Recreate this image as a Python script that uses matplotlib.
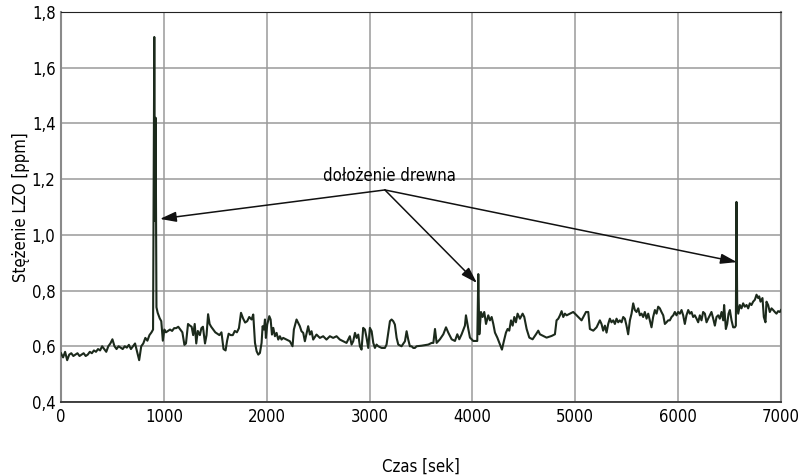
import matplotlib
matplotlib.use("Agg")
import matplotlib.pyplot as plt
from matplotlib.ticker import FuncFormatter

# wąska czcionka jak w oryginale (jeśli jest dostępna)
plt.rcParams['font.family'] = ['Liberation Sans Narrow', 'DejaVu Sans']
plt.rcParams['font.stretch'] = 'condensed'

# czas [s] i stężenie LZO [ppm]
czas = [
    0, 20, 40, 60, 80, 100, 120, 140, 160, 180, 200, 220, 240, 260, 280, 300,
    320, 340, 360, 380, 400, 420, 440, 460, 480, 500, 520, 540, 560, 580, 600,
    620, 640, 660, 680, 700, 720, 740, 760, 780, 800, 820, 840, 860, 880, 895,
    907, 914, 920, 928,
    940, 960, 975, 990, 1005, 1020, 1040, 1060, 1080, 1100, 1120, 1140, 1160,
    1180, 1200, 1215, 1235, 1250, 1270, 1285, 1300, 1315, 1330, 1350, 1365,
    1380, 1400, 1415, 1430, 1445, 1460, 1480, 1500, 1520, 1540, 1560, 1580,
    1600, 1615, 1630, 1650, 1670, 1690, 1710, 1730, 1750, 1770, 1790, 1810,
    1830,
    1853, 1869, 1886, 1902, 1918, 1934, 1950, 1960, 1973, 1983, 1992, 2005,
    2025, 2038, 2051, 2064, 2080, 2096, 2112, 2128, 2144, 2160, 2193, 2225,
    2251, 2264, 2290, 2306, 2322, 2338, 2355, 2371, 2403, 2420, 2436, 2452,
    2484, 2517, 2549, 2581, 2614, 2646, 2679, 2711, 2743, 2776, 2808,
    2825, 2841, 2858, 2874, 2890, 2906, 2922, 2938, 2955, 2971, 2987, 3003,
    3020, 3036, 3052, 3068, 3084, 3117, 3149, 3165, 3181, 3198, 3214, 3230,
    3246, 3263, 3279, 3311, 3344, 3360, 3376, 3392, 3408, 3425, 3441, 3457,
    3506, 3571, 3603,
    3620, 3636, 3652, 3684, 3717, 3743, 3765, 3798, 3830, 3853, 3872, 3895,
    3927, 3937, 3960, 3976, 4008, 4047, 4057, 4067, 4083, 4099, 4115, 4132,
    4154, 4170, 4187, 4203, 4219, 4242, 4268, 4287, 4306, 4326, 4342, 4358,
    4375, 4391, 4407, 4423, 4439, 4462, 4488, 4504, 4527, 4553, 4585, 4618,
    4640, 4656, 4689, 4721, 4770, 4802, 4818, 4835, 4851, 4867, 4883, 4899,
    4916, 4948, 4980, 4997, 5029, 5061, 5078, 5104, 5126, 5142, 5175, 5207,
    5239, 5255, 5271, 5288, 5304, 5320, 5336, 5352, 5369, 5385, 5401, 5417,
    5433, 5450, 5466, 5482, 5498, 5514, 5531, 5547, 5563, 5579, 5595, 5612,
    5628, 5644, 5660, 5676, 5693, 5709, 5725, 5741, 5757, 5774, 5790, 5806,
    5822, 5838, 5855, 5871, 5887, 5903, 5919, 5936, 5952, 5968, 5984, 6000,
    6017, 6033, 6049, 6065, 6081, 6098, 6114, 6130, 6146, 6162, 6179, 6195,
    6211, 6227, 6243, 6260, 6276, 6292, 6308, 6324, 6341, 6357, 6373, 6389,
    6405, 6422, 6438, 6447, 6464, 6477, 6490, 6503, 6519, 6535, 6551, 6561,
    6567, 6574, 6584, 6600, 6616, 6632, 6648, 6665, 6681, 6697, 6713, 6729,
    6746, 6762, 6778, 6788, 6801, 6820, 6833, 6849, 6859, 6875, 6891, 6908,
    6924, 6940, 6956, 6972, 6989, 7000,
]
stezenie = [
    0.575, 0.56, 0.58, 0.55, 0.57, 0.575, 0.565, 0.57, 0.575, 0.565, 0.57,
    0.575, 0.565, 0.57, 0.58, 0.575, 0.585, 0.58, 0.59, 0.585, 0.6, 0.59,
    0.58, 0.6, 0.61, 0.625, 0.6, 0.59, 0.6, 0.595, 0.59, 0.6, 0.595, 0.605,
    0.59, 0.6, 0.61, 0.58, 0.55, 0.6, 0.61, 0.63, 0.62, 0.64, 0.65, 0.66,
    1.71, 1.05, 1.42, 0.74,
    0.72, 0.70, 0.69, 0.62, 0.66, 0.65, 0.655, 0.66, 0.655, 0.665, 0.665,
    0.67, 0.66, 0.65, 0.605, 0.61, 0.68, 0.675, 0.67, 0.64, 0.68, 0.61,
    0.655, 0.64, 0.665, 0.67, 0.61, 0.64, 0.715, 0.68, 0.67, 0.66, 0.65,
    0.645, 0.64, 0.65, 0.59, 0.585, 0.62, 0.645, 0.64, 0.64, 0.655, 0.65,
    0.665, 0.72, 0.70, 0.685, 0.69, 0.705,
    0.696, 0.714, 0.612, 0.582, 0.57, 0.576, 0.612, 0.672, 0.66, 0.696, 0.63,
    0.678, 0.708, 0.696, 0.642, 0.666, 0.636, 0.648, 0.624, 0.636, 0.624,
    0.63, 0.624, 0.618, 0.60, 0.66, 0.696, 0.684, 0.672, 0.654, 0.648, 0.618,
    0.672, 0.642, 0.654, 0.624, 0.642, 0.63, 0.636, 0.624, 0.636, 0.63,
    0.636, 0.624, 0.618, 0.612, 0.636,
    0.606, 0.618, 0.648, 0.63, 0.642, 0.60, 0.588, 0.666, 0.66, 0.63, 0.594,
    0.666, 0.654, 0.612, 0.594, 0.606, 0.60, 0.594, 0.594, 0.606, 0.648,
    0.69, 0.696, 0.69, 0.678, 0.63, 0.606, 0.60, 0.618, 0.654, 0.624, 0.60,
    0.60, 0.594, 0.594, 0.60, 0.602, 0.606, 0.612,
    0.612, 0.662, 0.612, 0.625, 0.643, 0.668, 0.649, 0.625, 0.619, 0.643,
    0.625, 0.643, 0.674, 0.711, 0.662, 0.631, 0.619, 0.619, 0.859, 0.643,
    0.723, 0.705, 0.723, 0.68, 0.711, 0.693, 0.705, 0.68, 0.649, 0.631,
    0.606, 0.588, 0.619, 0.649, 0.662, 0.656, 0.693, 0.674, 0.705, 0.686,
    0.717, 0.699, 0.717, 0.705, 0.662, 0.631, 0.625, 0.643, 0.656, 0.643,
    0.637, 0.631, 0.637, 0.643, 0.693, 0.699, 0.711, 0.726, 0.705, 0.717,
    0.711, 0.717, 0.723, 0.717, 0.705, 0.693, 0.705, 0.723, 0.723, 0.662,
    0.656, 0.668,
    0.693, 0.680, 0.656, 0.674, 0.649, 0.680, 0.699, 0.686, 0.693, 0.680,
    0.699, 0.686, 0.693, 0.686, 0.705, 0.699, 0.674, 0.643, 0.693, 0.717,
    0.754, 0.730, 0.723, 0.736, 0.711, 0.717, 0.705, 0.723, 0.699, 0.717,
    0.693, 0.668, 0.705, 0.730, 0.717, 0.742, 0.736, 0.723, 0.711, 0.680,
    0.686, 0.693, 0.693, 0.705, 0.711, 0.723, 0.711, 0.723, 0.717, 0.730,
    0.711, 0.680, 0.711, 0.730, 0.717, 0.723, 0.705, 0.711, 0.699, 0.686,
    0.711, 0.693, 0.723, 0.717, 0.686, 0.699, 0.711, 0.723, 0.699, 0.674,
    0.705, 0.711, 0.699, 0.723, 0.693, 0.748, 0.662, 0.680, 0.717, 0.730,
    0.693, 0.668, 0.668, 0.674, 1.118, 0.754, 0.717, 0.748, 0.736, 0.754,
    0.742, 0.748, 0.736, 0.754, 0.748, 0.760, 0.767, 0.785, 0.773, 0.779,
    0.760, 0.773, 0.705, 0.686, 0.760, 0.748, 0.723, 0.736, 0.730, 0.723,
    0.717, 0.726, 0.723, 0.730,
]

x_ticks = [0, 1000, 2000, 3000, 4000, 5000, 6000, 7000]
y_ticks = [0.4, 0.6, 0.8, 1.0, 1.2, 1.4, 1.6, 1.8]

fig = plt.figure(figsize=(8, 4.76), dpi=100)
ax = fig.add_axes([0.07625, 0.1555, 0.9, 0.8195])

ax.plot(czas, stezenie, color='#1c2a1c', lw=1.5, zorder=3)

ax.set_xlim(0, 7000)
ax.set_ylim(0.4, 1.8)
ax.set_xticks(x_ticks)
ax.set_yticks(y_ticks)
ax.yaxis.set_major_formatter(FuncFormatter(lambda v, p: f'{v:.1f}'.replace('.', ',')))
ax.tick_params(length=0, labelsize=12, pad=4)
ax.grid(True, color='#9a9a9a', lw=1.1)
ax.set_axisbelow(True)

for side in ['left', 'right']:
    ax.spines[side].set_color('#8a8a8a')
    ax.spines[side].set_linewidth(1.5)
ax.spines['top'].set_color('#222222')
ax.spines['bottom'].set_color('#333333')
ax.spines['bottom'].set_linewidth(1.3)

ax.set_xlabel('Czas [sek]', fontsize=12, labelpad=23)
ax.set_ylabel('Stężenie LZO [ppm]', fontsize=12, labelpad=1)

# adnotacja: dołożenie drewna
zrodlo = (3149, 1.161)
cele = [(962, 1.057), (4044, 0.827), (6571, 0.902)]
ax.text(3198, 1.211, 'dołożenie drewna', fontsize=12, ha='center', va='center')
for cel in cele:
    ax.annotate('', xy=cel, xytext=zrodlo,
                arrowprops=dict(arrowstyle='-|>,head_length=0.7,head_width=0.22',
                                color='#111111', lw=1.1, mutation_scale=14,
                                shrinkA=0, shrinkB=0))

fig.savefig('out.png', dpi=100)
